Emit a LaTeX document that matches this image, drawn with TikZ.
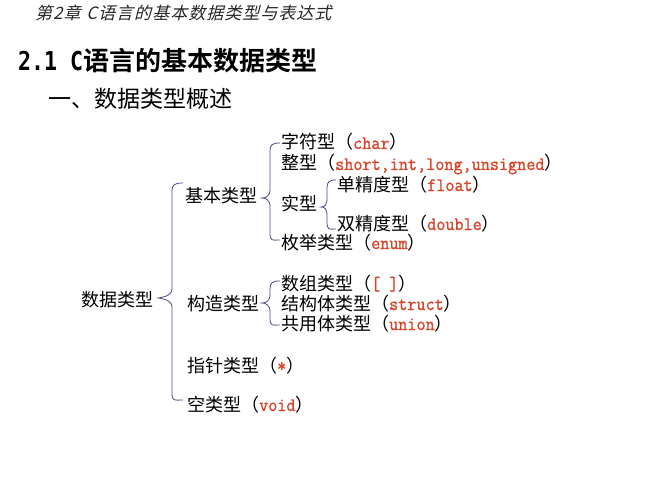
\documentclass[tikz,border=0pt]{standalone}
\usepackage{fontspec}
\setmainfont{Noto Sans CJK SC}
\newfontfamily\cjk{Noto Sans CJK SC}
\newfontfamily\cjkbold{Noto Sans CJK SC}[BoldFont={Noto Sans CJK SC Bold}]
\newfontfamily\headfont{Noto Sans CJK SC}[FakeSlant=0.25,LetterSpace=6]
\newfontfamily\codefont{Latin Modern Mono}[FakeBold=1.1,FakeStretch=0.93]
\newfontfamily\titlecode{DejaVu Sans Mono}[FakeStretch=0.83]
\definecolor{codered}{HTML}{D8442A}
\definecolor{bracecol}{HTML}{4A4A88}
\newcommand\cd[1]{{\codefont\fontsize{19}{19}\selectfont\color{codered}#1}}
% brace: vertical x, tip x, end x, top y, tip y, bottom y (y in px downward)
\newcommand\mybrace[6]{%
  \draw[bracestyle] (#3,-#4) .. controls (#1+2,-#4) and (#1,-#4-2) .. (#1,-#4-8)
    -- (#1,-#5+9) .. controls (#1,-#5+2) and (#2+4,-#5) .. (#2,-#5)
    .. controls (#2+4,-#5) and (#1,-#5-2) .. (#1,-#5-9)
    -- (#1,-#6+8) .. controls (#1,-#6-2) and (#1+2,-#6) .. (#3,-#6);}
\begin{document}
\begin{tikzpicture}[x=1pt,y=1pt,
  bracestyle/.style={draw=bracecol,line width=0.8pt},
  txt/.style={anchor=base west,inner sep=0pt,font=\cjk\fontsize{18}{18}\selectfont},
  ]
\useasboundingbox[fill=white] (0,0) rectangle (667,-500);
% header
\node[anchor=base west,inner sep=0pt,font=\headfont\fontsize{17}{17}\selectfont,text=black!85] (hdr) at (35,-20) {第2章\,\,C语言的基本数据类型与表达式};
% title
\node[anchor=base west,inner sep=0pt,font=\cjkbold\bfseries\fontsize{26}{26}\selectfont] (title) at (18,-71) {{\titlecode\bfseries 2.1 C}语言的基本数据类型};
\node[anchor=base west,inner sep=0pt,font=\cjk\fontsize{23}{23}\selectfont] (sub) at (48,-108) {一、数据类型概述};
% tree
\node[txt] (root) at (81,-306) {数据类型};
\node[txt] (basic) at (185,-203) {基本类型};
\node[txt] (char) at (281,-149) {字符型（\cd{char}）};
\node[txt] (int) at (281,-170) {整型（\cd{short,int,long,unsigned}）};
\node[txt] (real) at (281,-211) {实型};
\node[txt] (float) at (337,-191) {单精度型（\cd{float}）};
\node[txt] (double) at (337,-230) {双精度型（\cd{double}）};
\node[txt] (enum) at (281,-249) {枚举类型（\cd{enum}）};
\node[txt] (constr) at (187,-310) {构造类型};
\node[txt] (array) at (281,-290) {数组类型（\cd{[ ]}）};
\node[txt] (struct) at (281,-310) {结构体类型（\cd{struct}）};
\node[txt] (union) at (281,-330) {共用体类型（\cd{union}）};
\node[txt] (ptr) at (187,-372) {指针类型（\cd{*}）};
\node[txt] (void) at (187,-411) {空类型（\cd{void}）};
% braces
\mybrace{172}{157}{183}{183}{298}{400}
\mybrace{270}{262}{280}{143}{198}{240}
\mybrace{327}{321}{336}{180}{207}{229}
\mybrace{270}{262}{280}{281}{303}{325}
\end{tikzpicture}
\end{document}
